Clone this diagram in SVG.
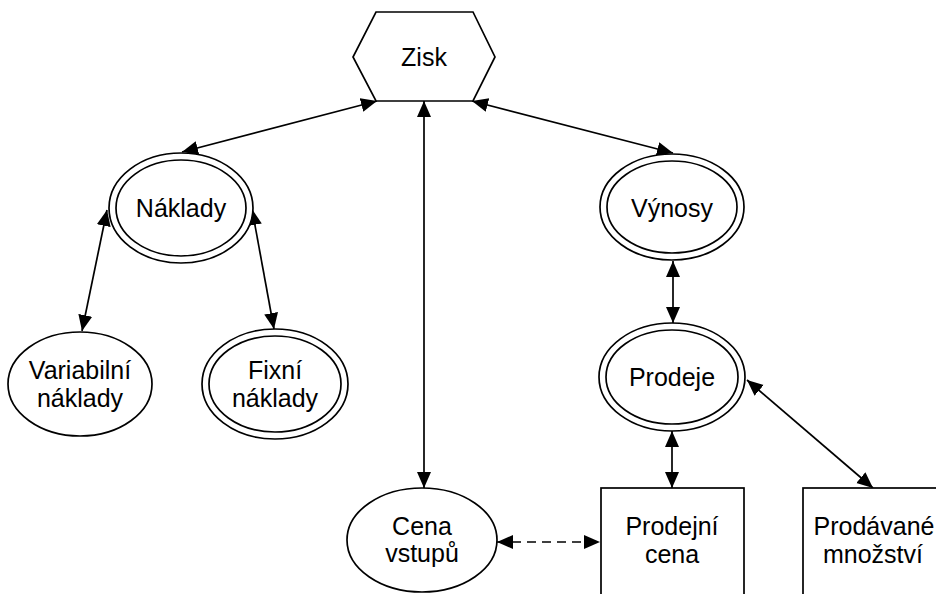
<svg xmlns="http://www.w3.org/2000/svg" width="936" height="594" viewBox="0 0 936 594">
  <style>
    .shape { fill: #ffffff; stroke: #000000; stroke-width: 1.7; }
    .label { font-family: "Liberation Sans", Arial, sans-serif; font-size: 25px; fill: #000000; text-anchor: middle; }
    .link { stroke: #000000; stroke-width: 1.7; fill: none; marker-start: url(#arrow); marker-end: url(#arrow); }
    .dashed { stroke-dasharray: 9 6; }
  </style>
  <defs>
    <marker id="arrow" markerUnits="userSpaceOnUse" markerWidth="18" markerHeight="16" refX="16" refY="7" orient="auto-start-reverse">
      <path d="M0,0 L16,7 L0,14 z" fill="#000000"/>
    </marker>
  </defs>

  <rect width="936" height="594" fill="#ffffff"/>

  <!-- connectors -->
  <g id="connectors">
    <line class="link" x1="377" y1="101" x2="182" y2="152"/>
    <line class="link" x1="472" y1="101" x2="673" y2="153"/>
    <line class="link" x1="424" y1="101" x2="424" y2="488"/>
    <line class="link" x1="107" y1="210" x2="82" y2="331"/>
    <line class="link" x1="252" y1="209" x2="274" y2="329"/>
    <line class="link" x1="673" y1="261" x2="673" y2="323"/>
    <line class="link" x1="672" y1="431" x2="672" y2="488"/>
    <line class="link" x1="747" y1="380" x2="873" y2="488"/>
    <line class="link dashed" x1="497" y1="542" x2="600" y2="542"/>
  </g>

  <!-- nodes -->
  <g id="zisk">
    <polygon class="shape" points="376,12 473,12 495,57 473,101 376,101 353,57"/>
    <text class="label" x="424" y="66">Zisk</text>
  </g>

  <g id="naklady">
    <ellipse class="shape" cx="181" cy="208" rx="72" ry="55"/>
    <ellipse class="shape" cx="181" cy="208" rx="65" ry="48"/>
    <text class="label" x="181" y="217">Náklady</text>
  </g>

  <g id="vynosy">
    <ellipse class="shape" cx="672" cy="207" rx="72" ry="53"/>
    <ellipse class="shape" cx="672" cy="207" rx="65" ry="46"/>
    <text class="label" x="672" y="217">Výnosy</text>
  </g>

  <g id="variabilni-naklady">
    <ellipse class="shape" cx="80" cy="384" rx="72" ry="52"/>
    <text class="label" x="80" y="379">Variabilní</text>
    <text class="label" x="80" y="407">náklady</text>
  </g>

  <g id="fixni-naklady">
    <ellipse class="shape" cx="275" cy="384" rx="73" ry="55"/>
    <ellipse class="shape" cx="275" cy="384" rx="66" ry="48"/>
    <text class="label" x="275" y="379">Fixní</text>
    <text class="label" x="275" y="407">náklady</text>
  </g>

  <g id="prodeje">
    <ellipse class="shape" cx="672" cy="377" rx="73" ry="54"/>
    <ellipse class="shape" cx="672" cy="377" rx="66" ry="47"/>
    <text class="label" x="672" y="386">Prodeje</text>
  </g>

  <g id="cena-vstupu">
    <ellipse class="shape" cx="422" cy="540" rx="75" ry="52"/>
    <text class="label" x="422" y="535">Cena</text>
    <text class="label" x="422" y="562">vstupů</text>
  </g>

  <g id="prodejni-cena">
    <rect class="shape" x="601" y="488" width="143" height="130"/>
    <text class="label" x="672" y="535">Prodejní</text>
    <text class="label" x="672" y="563">cena</text>
  </g>

  <g id="prodavane-mnozstvi">
    <rect class="shape" x="803" y="488" width="143" height="130"/>
    <text class="label" x="874" y="535">Prodávané</text>
    <text class="label" x="873" y="563">množství</text>
  </g>
</svg>
